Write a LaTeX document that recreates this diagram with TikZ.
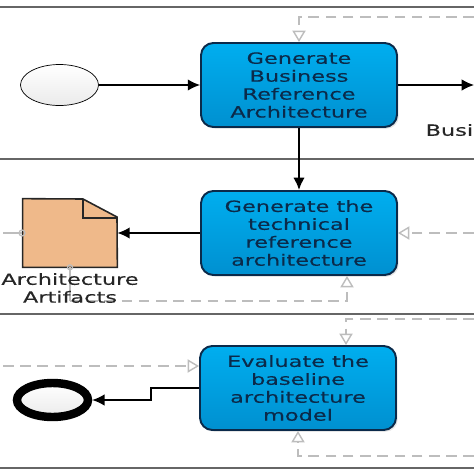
\documentclass[tikz,border=0pt]{standalone}
\usepackage{fontspec}
\newfontfamily\flowfont[FakeStretch=1.45,FakeBold=0.25]{DejaVu Sans}
\usepackage{tikz}
\usetikzlibrary{arrows.meta,shapes.geometric,shadows}
\definecolor{navy}{HTML}{0B2A4A}
\definecolor{lane}{HTML}{666666}
\definecolor{msg}{HTML}{BDBDBD}
\definecolor{taskTop}{HTML}{00AEEF}
\definecolor{taskBottom}{HTML}{0090D0}
\definecolor{artifactFill}{HTML}{EFB98A}
\tikzset{
  taskbox/.style={draw=navy,line width=1.1pt,rounded corners=7pt,top color=taskTop,bottom color=taskBottom,minimum width=3.92cm,minimum height=1.68cm,inner sep=0pt,align=center,text=navy,font=\flowfont\fontsize{8.8}{10.2}\selectfont,drop shadow={shadow xshift=1pt,shadow yshift=-1pt,opacity=.2}},
  eventnode/.style={ellipse,draw=black,top color=white,bottom color=black!8,minimum width=1.56cm,minimum height=.82cm,inner sep=0pt},
  flow/.style={draw=black,line width=.75pt,-{Latex[length=7pt,width=6.5pt]}},
  msgflow/.style={draw=msg,line width=.8pt,dash pattern=on 6pt off 3.8pt,-{Triangle[open,length=6.5pt,width=7.5pt,fill=white]}},
  lanerule/.style={draw=lane,line width=1pt},
  caption/.style={font=\flowfont\fontsize{8.8}{10.2}\selectfont,text=black!85,align=center,inner sep=0pt}
}
\begin{document}
\begin{tikzpicture}[x=0.02cm,y=-0.02cm]
\useasboundingbox (0,0) rectangle (474,474);
% lanes
\foreach \y in {7,159,314,468} \draw[lanerule] (0,\y) -- (474,\y);
% nodes
\node[eventnode] (start) at (59.5,85) {};
\node[taskbox] (business) at (299,85) {Generate\\Business\\Reference\\Architecture};
\node[taskbox] (technical) at (299,233) {Generate the\\technical\\reference\\architecture};
\node[taskbox] (baseline) at (298,388) {Evaluate the\\baseline\\architecture\\model};
\node[eventnode,line width=4.8pt,minimum width=1.42cm,minimum height=.68cm] (finish) at (52.5,400) {};
\node[minimum width=1.88cm,minimum height=1.36cm,inner sep=0pt] (artifact) at (70,233) {};
\draw[draw=black!85,line width=.9pt,fill=artifactFill] (artifact.south west) -- (artifact.north west) -- (83,199) -- (117,217) -- (artifact.south east) -- cycle;
\draw[draw=black!85,line width=.9pt] (83,199) -- (83,218) -- (117,218);
% free ends
\coordinate (outA) at (474,85);
\coordinate (topA) at (474,17);
\coordinate (sideB) at (474,233);
\coordinate (leftB) at (3,233);
\coordinate (underB) at (70,301);
\coordinate (leftC) at (3,366);
\coordinate (topC) at (474,319);
\coordinate (underC) at (474,456);
\coordinate (turnB) at (347,301);
\coordinate (turnC) at (346,319);
% sequence flows
\draw[flow] (start) -- (business);
\draw[flow] (business) -- (outA);
\draw[flow,line width=1.2pt] (business) -- (technical);
\draw[flow,line width=1.1pt] (technical) -- (artifact);
\draw[flow] (baseline.west |- 0,388) -- (151,388) -- (151,400) -- (finish);
% message flows
\draw[msgflow] (topA) -| (business.north);
\draw[msgflow] (sideB) -- (technical.east);
\draw[msgflow] (underB) -- (turnB) -- (turnB |- technical.south);
\draw[msgflow] (leftC) -- (leftC -| baseline.west);
\draw[msgflow] (topC) -- (turnC) -- (turnC |- baseline.north);
\draw[msgflow] (underC) -| (baseline.south);
% association stubs
\draw[draw=msg,line width=.7pt] (leftB) -- (22,233);
\draw[draw=msg,line width=.7pt] (22,233) circle (3);
\draw[draw=msg,line width=.7pt] (underB) -- (artifact.south);
\draw[draw=msg,line width=.7pt] (artifact.south) circle (2.5);
% captions
\node[caption] (artifactlabel) at (70,288) {Architecture\\Artifacts};
\node[caption,anchor=east] (busilabel) at (473.5,130) {Busi};
\end{tikzpicture}
\end{document}
